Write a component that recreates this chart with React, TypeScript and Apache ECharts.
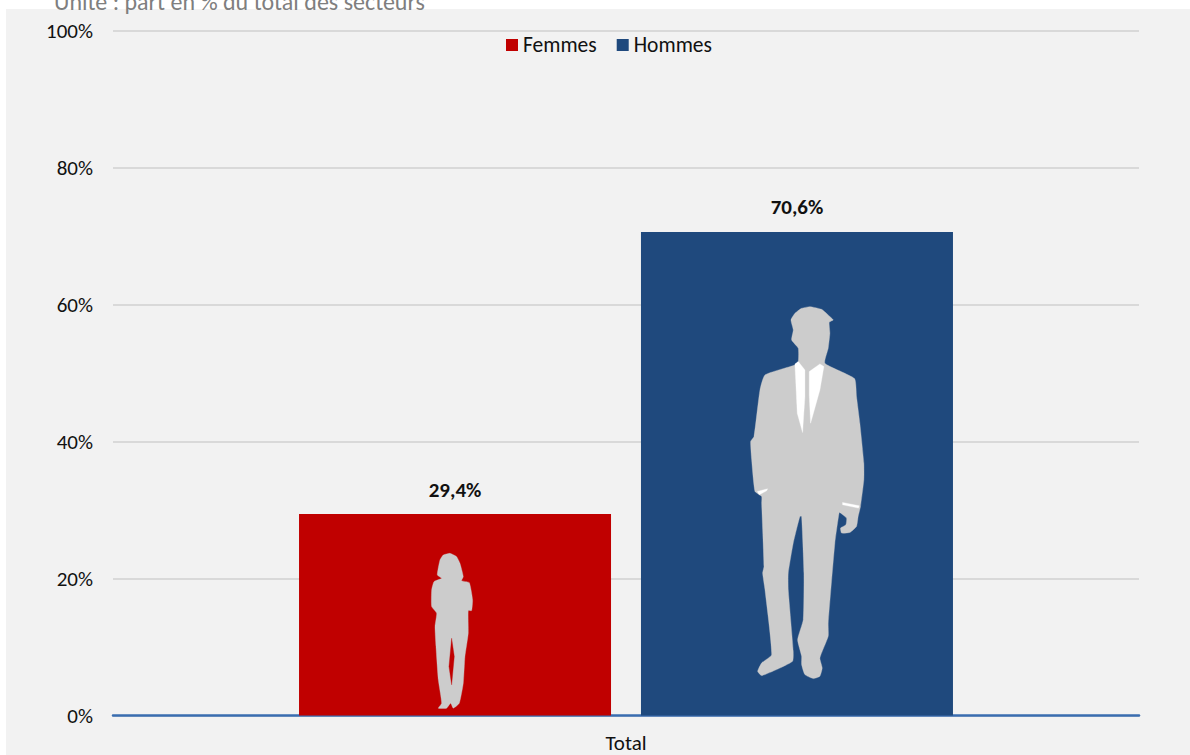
import React, { useEffect, useRef } from "react";
import * as echarts from "echarts";

const categories = ["Total"];
const femmes = [29.4];
const hommes = [70.6];
const yTicks = { min: 0, max: 100, interval: 20 };
const subtitle = "Unité : part en % du total des secteurs";
const FONT = "Carlito, Lato, sans-serif";

// Silhouette outlines, in 3x-scaled local units
const manBody = [[270,50],[305,58],[325,75],[340,90],[328,97],[330,130],[325,175],[315,220],[404,266],[410,320],[420,400],[432,520],[432,570],[422,650],[415,680],[410,710],[390,728],[365,730],[362,715],[378,705],[380,685],[362,670],[358,668],[345,760],[325,1000],[325,1040],[300,1105],[307,1135],[300,1160],[280,1167],[255,1155],[245,1125],[245,1100],[233,1050],[250,990],[252,850],[245,680],[240,680],[220,760],[205,850],[205,900],[220,1085],[218,1115],[170,1140],[125,1158],[113,1145],[125,1120],[155,1095],[135,900],[128,850],[132,830],[125,640],[125,620],[105,605],[95,510],[92,455],[102,440],[120,300],[135,255],[225,225],[235,215],[235,175],[215,150],[220,120],[213,90],[225,70],[245,55]];
const manShirtL = [[225,222],[235,215],[255,240],[255,320],[248,428],[232,370]];
const manShirtR = [[312,230],[300,222],[268,245],[268,315],[272,400],[300,300]];
const manCuffL = [[112,605],[143,597],[140,603],[118,615]];
const manCuffR = [[368,638],[418,648],[416,655],[368,645]];
const womanBody = [[120,40],[140,50],[150,70],[160,110],[155,122],[178,128],[188,180],[185,212],[175,212],[175,280],[165,350],[160,430],[148,490],[130,505],[122,490],[110,505],[85,505],[95,490],[85,420],[78,320],[75,260],[80,220],[65,200],[65,150],[72,125],[95,115],[82,105],[90,60],[100,45]];
const womanGap = [[125,295],[133,350],[125,435],[117,380]];

const RED = "#c00000";
const BLUE = "#1f497d";
const SIL = "#cccccc";

const poly = (points: number[][], fill: string, x: number, y: number, z: number, smooth = 0) => ({
  type: "polygon",
  x,
  y,
  scaleX: 1 / 3,
  scaleY: 1 / 3,
  z,
  shape: { points, smooth },
  style: { fill, stroke: fill, lineWidth: 1 },
  silent: true,
});

const labelOf = (p: any) => p.value.toFixed(1).replace(".", ",") + "%";
const barLabel = {
  show: true,
  position: "top",
  distance: 14,
  fontSize: 21,
  fontWeight: "bold",
  color: "#111",
  fontFamily: FONT,
  formatter: labelOf,
};

export default function App() {
  const ref = useRef<HTMLDivElement>(null);
  useEffect(() => {
    const chart = echarts.init(ref.current!, null, { renderer: "svg" });
    chart.setOption({
      animation: false,
      backgroundColor: "#ffffff",
      textStyle: { fontFamily: FONT },
      grid: { left: 113, right: 51, top: 30.5, bottom: 39.5 },
      legend: {
        left: 501,
        top: 29,
        itemWidth: 12,
        itemHeight: 12,
        itemGap: 20,
        icon: "rect",
        textStyle: { fontSize: 21.5, color: "#111", fontFamily: FONT },
        data: ["Femmes", "Hommes"],
      },
      xAxis: {
        type: "category",
        data: categories,
        axisTick: { show: false },
        axisLine: { onZero: true, lineStyle: { color: "#3a6db0", width: 2.5 } },
        axisLabel: { fontSize: 21, lineHeight: 20, color: "#111", fontFamily: FONT, margin: 17 },
      },
      yAxis: {
        type: "value",
        min: yTicks.min,
        max: yTicks.max,
        interval: yTicks.interval,
        axisLine: { show: false },
        axisTick: { show: false },
        splitLine: { lineStyle: { color: "#d9d9d9", width: 2 } },
        axisLabel: { formatter: "{value}%", fontSize: 21, color: "#111", fontFamily: FONT, margin: 20, padding: [0, 0, 2, 0] },
      },
      series: [
        {
          name: "Femmes",
          type: "bar",
          data: femmes,
          barWidth: 312,
          barGap: "9.6%",
          itemStyle: { color: RED },
          label: barLabel,
        },
        {
          name: "Hommes",
          type: "bar",
          data: hommes,
          barWidth: 312,
          itemStyle: { color: BLUE },
          label: barLabel,
        },
      ],
      graphic: [
        { type: "rect", z: -10, silent: true, shape: { x: 6, y: 9, width: 1184, height: 746 }, style: { fill: "#f2f2f2" } },
        { type: "text", z: 10, silent: true, x: 54, y: -11, style: { text: subtitle, fontSize: 24, fill: "#7f7f7f", fontFamily: FONT } },
        poly(manBody, SIL, 720, 290, 10, 0.15),
        poly(manShirtL, "#ffffff", 720, 290, 11),
        poly(manShirtR, "#ffffff", 720, 290, 11),
        poly(manCuffL, "#ffffff", 720, 290, 11),
        poly(manCuffR, "#ffffff", 720, 290, 11),
        poly(womanBody, SIL, 410, 540, 10, 0.15),
        poly(womanGap, RED, 410, 540, 11),
      ],
    });
    return () => chart.dispose();
  }, []);
  return <div ref={ref} style={{ position: "fixed", left: 0, top: 0, width: 1190, height: 755 }} />;
}
